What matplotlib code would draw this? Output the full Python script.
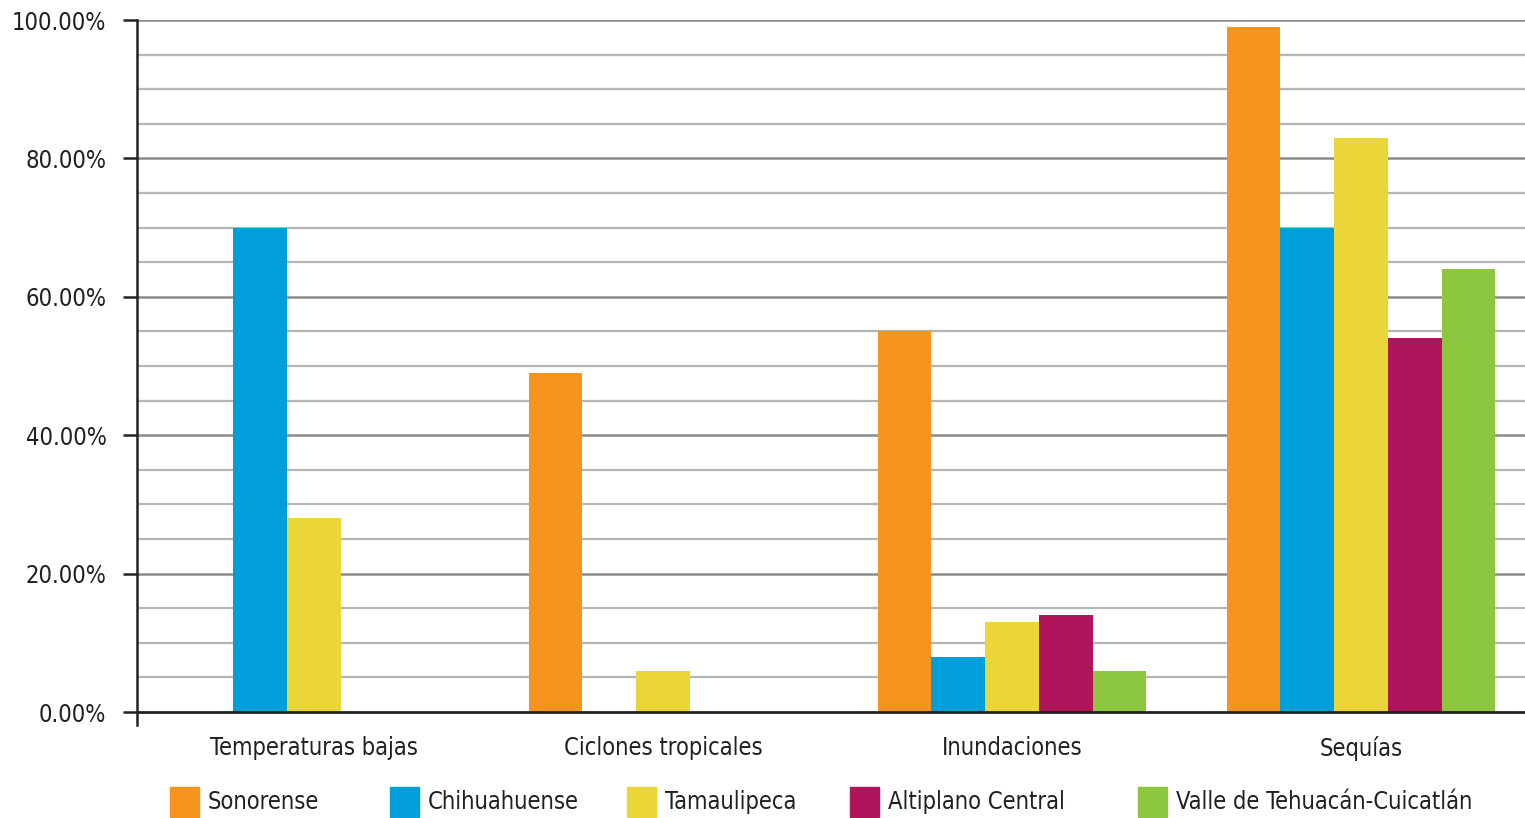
import matplotlib
matplotlib.use("Agg")
import matplotlib.pyplot as plt
import numpy as np
from matplotlib.patches import Rectangle
from matplotlib import font_manager as fm

categories = ["Temperaturas bajas", "Ciclones tropicales", "Inundaciones", "Sequías"]
series_names = ["Sonorense", "Chihuahuense", "Tamaulipeca", "Altiplano Central", "Valle de Tehuacán-Cuicatlán"]
sonorense = [0, 49, 55, 99]
chihuahuense = [70, 0, 8, 70]
tamaulipeca = [28, 6, 13, 83]
altiplano = [0, 0, 14, 54]
valle = [0, 0, 6, 64]
y_ticks = [0, 20, 40, 60, 80, 100]
y_tick_labels = ["0.00%", "20.00%", "40.00%", "60.00%", "80.00%", "100.00%"]

colors = ["#F7941D", "#009FDA", "#EBD63A", "#B0145A", "#8DC63F"]
values = [sonorense, chihuahuense, tamaulipeca, altiplano, valle]

names = sorted({f.name for f in fm.fontManager.ttflist})
print(names)
print(sorted({(f.name, f.stretch) for f in fm.fontManager.ttflist if 'DejaVu' in f.name or 'Liberation' in f.name}))

plt.rcParams['font.family'] = ['DejaVu Sans']
plt.rcParams['font.stretch'] = 'condensed'
text_color = "#231F20"
fs = 17

fig = plt.figure(figsize=(15.25, 8.18), dpi=100)
ax = fig.add_axes([137/1525, 1-725/818, 1-137/1525, (725-20)/818])

x = np.arange(len(categories))
n = len(series_names)
w = 0.154
for i, (vals, c) in enumerate(zip(values, colors)):
    ax.bar(x + (i - (n-1)/2) * w, vals, width=w, color=c, zorder=3)

ax.set_xlim(-0.507, 3.47)
ax.set_ylim(-1.87, 100)

for yv in np.arange(5, 101, 5):
    if yv % 20 == 0:
        ax.axhline(yv, color="#8A8A8A", lw=1.8, zorder=1)
    else:
        ax.axhline(yv, color="#B5B5B5", lw=1.6, zorder=1)
ax.axhline(0, color="#222222", lw=2.0, zorder=4)

for s in ["top", "right", "bottom"]:
    ax.spines[s].set_visible(False)
ax.spines["left"].set_color("#222222")
ax.spines["left"].set_linewidth(1.8)

ax.set_yticks(y_ticks)
ax.set_yticklabels(y_tick_labels, fontsize=fs, color=text_color)
ax.tick_params(axis="y", length=10, width=1.8, color="#222222", pad=12)
ax.set_xticks(x)
ax.set_xticklabels(categories, fontsize=fs, color=text_color)
ax.tick_params(axis="x", length=0, pad=8)

leg_x = [170, 390, 627, 850, 1138]
for name, c, lx in zip(series_names, colors, leg_x):
    fig.patches.append(Rectangle((lx/1525, 1-817/818), 29/1525, 30/818,
                                 transform=fig.transFigure, color=c))
    fig.text((lx+38)/1525, 1-802/818, name, fontsize=fs, color=text_color,
             va="center", ha="left")

fig.savefig("out.png", dpi=100)
